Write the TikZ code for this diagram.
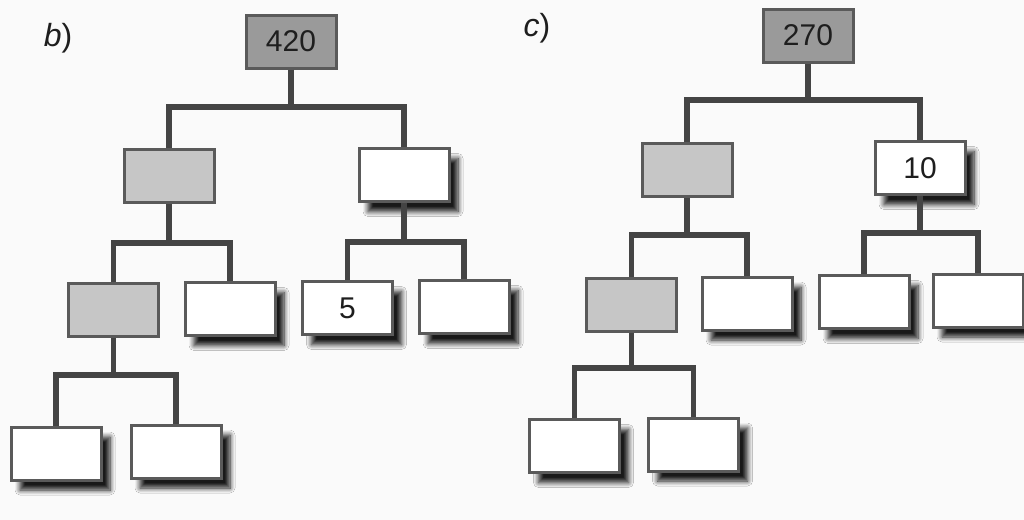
\documentclass[tikz,border=0pt]{standalone}
\usepackage{fontspec}
\setmainfont{Liberation Sans}
\usetikzlibrary{shadows.blur}
\definecolor{ink}{HTML}{1E1E1E}
\definecolor{edge}{HTML}{5A5A5A}
\definecolor{wire}{HTML}{444444}
\definecolor{darkfill}{HTML}{9A9A9A}
\definecolor{lightfill}{HTML}{C6C6C6}
\definecolor{paper}{HTML}{FAFAFA}
\tikzset{
  box/.style={draw=edge, line width=1.5pt, minimum width=45pt, minimum height=26.5pt,
    inner sep=0pt, text=ink, font=\fontsize{15}{17}\selectfont},
  rootbox/.style={box, fill=darkfill},
  graybox/.style={box, fill=lightfill},
  whitebox/.style={box, fill=white, blur shadow={shadow xshift=4.5pt, shadow yshift=-5pt,
    shadow blur radius=2.5pt, shadow blur steps=8, shadow blur extra rounding=0pt,
    shadow opacity=90}},
  conn/.style={draw=wire, line width=2.6pt},
  tag/.style={font=\fontsize{16}{18}\selectfont, text=ink}
}
\begin{document}
\begin{tikzpicture}[x=0.5pt, y=-0.5pt]
  \fill[paper] (0,0) rectangle (1024,520);
  \useasboundingbox (0,0) rectangle (1024,520);

  % ---- tree b) : 420
  \node[tag] (lb) at (58,38) {\textit{b})};
  \node[rootbox] (b0) at (291,41.5) {420};
  \node[graybox]  (b1) at (169,175.5) {};
  \node[whitebox] (b2) at (404,175) {};
  \node[graybox]  (b3) at (113.5,310) {};
  \node[whitebox] (b4) at (230,309) {};
  \node[whitebox] (b5) at (347.5,308) {5};
  \node[whitebox] (b6) at (464,307) {};
  \node[whitebox] (b7) at (56,453.5) {};
  \node[whitebox] (b8) at (176,451.5) {};

  \coordinate (jb0) at (b0.south |- 0,107);
  \coordinate (jb1) at (b1.south |- 0,243);
  \coordinate (jb2) at (b2.south |- 0,242);
  \coordinate (jb3) at (b3.south |- 0,375);

  \draw[conn] (b0.south) -- (jb0);
  \draw[conn] (b1.north) |- (jb0) -| (b2.north);
  \draw[conn] (b1.south) -- (jb1);
  \draw[conn] (b3.north) |- (jb1) -| (b4.north);
  \draw[conn] (b2.south) -- (jb2);
  \draw[conn] (b5.north) |- (jb2) -| (b6.north);
  \draw[conn] (b3.south) -- (jb3);
  \draw[conn] (b7.north) |- (jb3) -| (b8.north);

  % ---- tree c) : 270
  \node[tag] (lc) at (537,28) {\textit{c})};
  \node[rootbox] (c0) at (808,35.5) {270};
  \node[graybox]  (c1) at (687,170) {};
  \node[whitebox] (c2) at (920,168) {10};
  \node[graybox]  (c3) at (631.5,304.5) {};
  \node[whitebox] (c4) at (747,303.5) {};
  \node[whitebox] (c5) at (864,302) {};
  \node[whitebox] (c6) at (978,300.5) {};
  \node[whitebox] (c7) at (574.5,446) {};
  \node[whitebox] (c8) at (693.5,444.5) {};

  \coordinate (jc0) at (c0.south |- 0,100);
  \coordinate (jc1) at (c1.south |- 0,235);
  \coordinate (jc2) at (c2.south |- 0,233);
  \coordinate (jc3) at (c3.south |- 0,368);

  \draw[conn] (c0.south) -- (jc0);
  \draw[conn] (c1.north) |- (jc0) -| (c2.north);
  \draw[conn] (c1.south) -- (jc1);
  \draw[conn] (c3.north) |- (jc1) -| (c4.north);
  \draw[conn] (c2.south) -- (jc2);
  \draw[conn] (c5.north) |- (jc2) -| (c6.north);
  \draw[conn] (c3.south) -- (jc3);
  \draw[conn] (c7.north) |- (jc3) -| (c8.north);
\end{tikzpicture}
\end{document}
